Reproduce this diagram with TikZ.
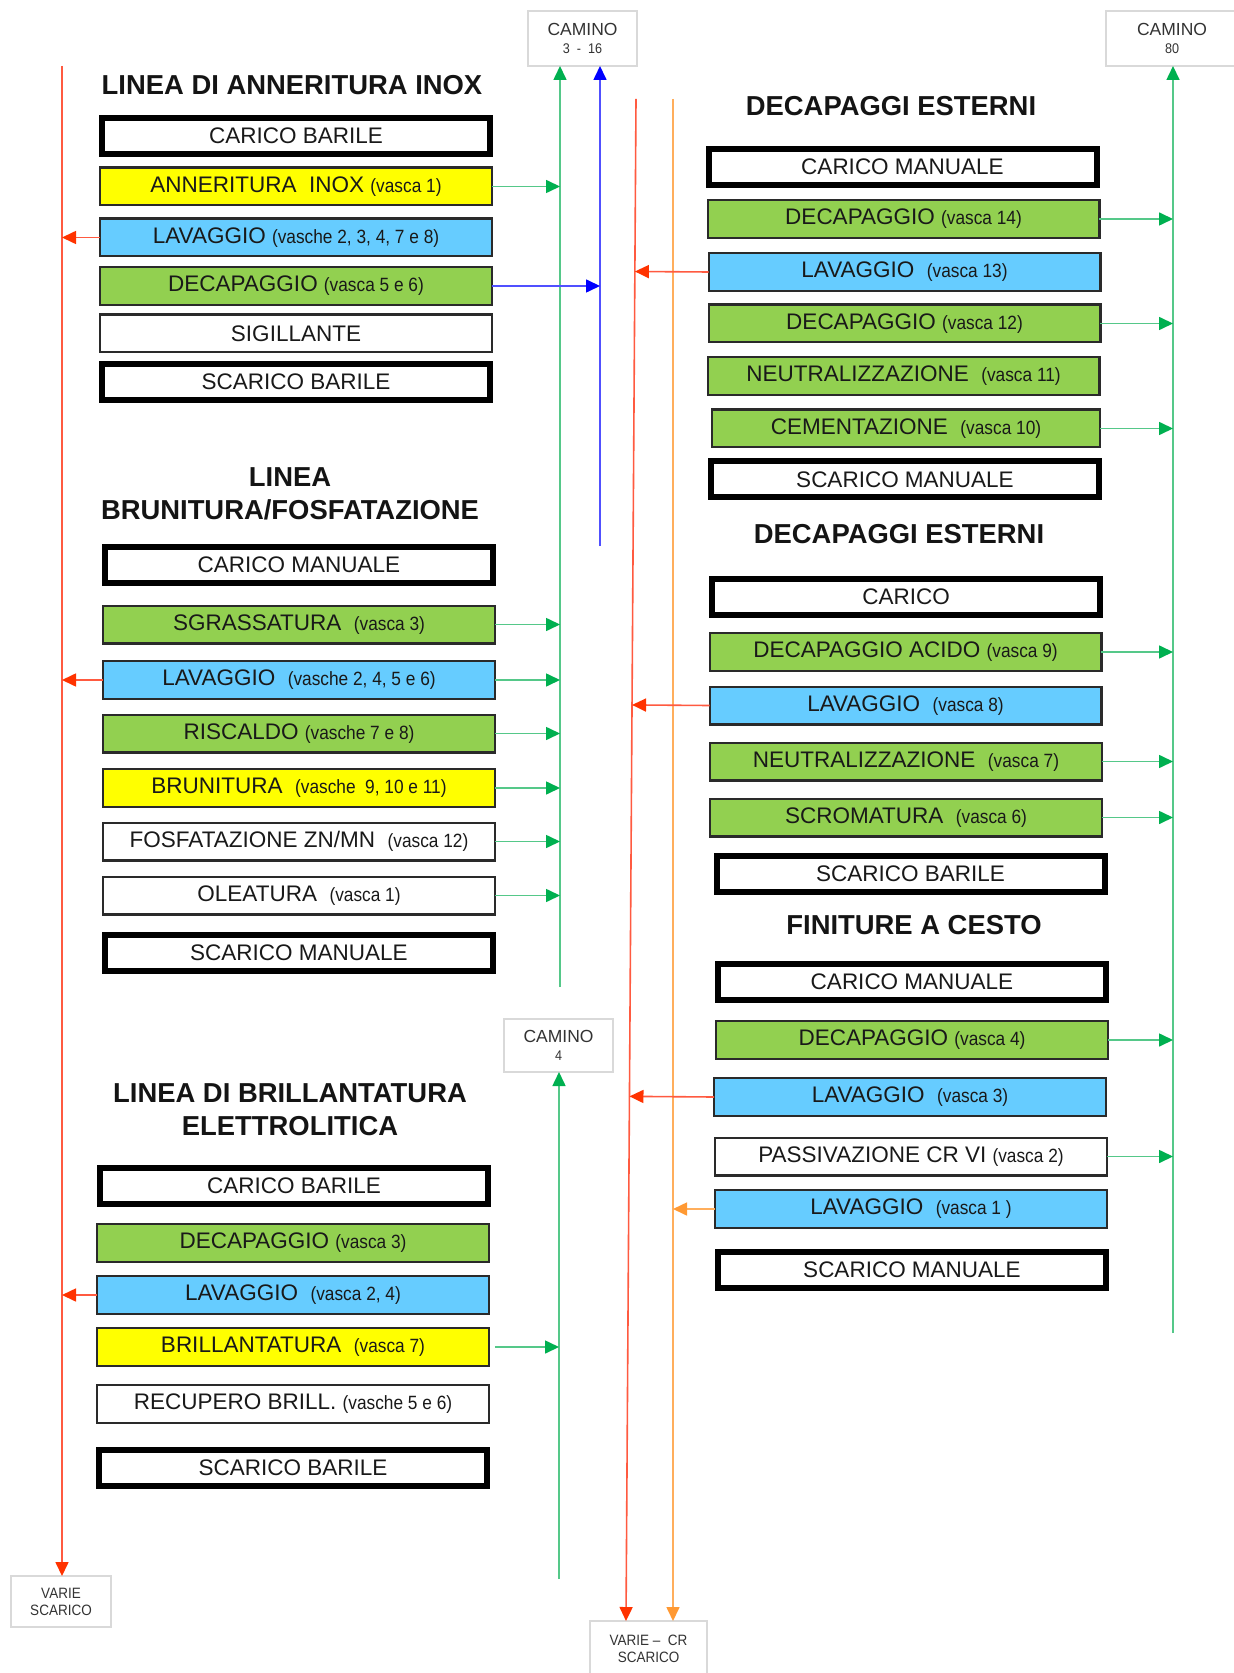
\documentclass[tikz,border=0pt]{standalone}
\usepackage{fontspec}
\setmainfont{Liberation Sans}
\newfontfamily\narrowfont[FakeStretch=0.9]{Liberation Sans}
\usetikzlibrary{arrows.meta,calc}

\definecolor{tankgreen}{HTML}{92D050}
\definecolor{tankblue}{HTML}{66CCFF}
\definecolor{tankyellow}{HTML}{FFFF00}
\definecolor{fumegreen}{HTML}{55C889}
\definecolor{fumetip}{HTML}{00B050}
\definecolor{drainred}{HTML}{FF5A40}
\definecolor{draintip}{HTML}{FF3300}
\definecolor{drainorange}{HTML}{FFAE5C}
\definecolor{orangetip}{HTML}{FF9933}
\definecolor{fumeblue}{HTML}{5050FF}
\definecolor{bluetip}{HTML}{0000FF}
\definecolor{chimneyedge}{HTML}{D9D9D9}
\definecolor{stageedge}{HTML}{2A2A2A}

\newcommand\vascatext[1]{{\narrowfont\fontsize{9.6pt}{11pt}\selectfont #1}}
\newcommand\chimneysub[1]{{\narrowfont\fontsize{7pt}{8pt}\selectfont #1}}

\begin{document}
\begin{tikzpicture}[x=0.5pt,y=-0.5pt,
  every node/.style={inner sep=0pt,outer sep=0pt},
  stagebox/.style={draw=stageedge,line width=1.1pt,fill=white,
    minimum width=195.9pt,minimum height=18.9pt,
    font=\fontsize{11.25pt}{13pt}\selectfont,text=black!90},
  endbox/.style={draw=black,line width=3pt,fill=white,
    minimum width=194pt,minimum height=18pt,
    font=\fontsize{11.25pt}{13pt}\selectfont,text=black!90},
  linetitle/.style={font=\fontsize{13.7pt}{16.5pt}\selectfont\bfseries,align=center,text=black!92},
  chimney/.style={draw=chimneyedge,line width=0.8pt,fill=white,align=center,
    font=\fontsize{8.75pt}{10pt}\selectfont,text=black!80},
  drainbox/.style={draw=chimneyedge,line width=0.8pt,fill=white,align=center,
    font=\narrowfont\fontsize{7.5pt}{8.5pt}\selectfont,text=black!80},
  fume/.style={draw=fumegreen,line width=0.8pt,-{Triangle[length=7pt,width=6.5pt,color=fumetip]}},
  fumeb/.style={draw=fumeblue,line width=0.8pt,-{Triangle[length=7pt,width=6.5pt,color=bluetip]}},
  drain/.style={draw=drainred,line width=0.8pt,-{Triangle[length=7pt,width=6.5pt,color=draintip]}},
  draino/.style={draw=drainorange,line width=0.8pt,-{Triangle[length=7pt,width=6.5pt,color=orangetip]}}
]
\useasboundingbox[fill=white] (0,0) rectangle (1234,1673);

% ---------- chimneys and drains ----------
\node[chimney,minimum width=54.5pt,minimum height=27.5pt] (cam316) at (582.5,38.5)
  {CAMINO\\[-1pt]\chimneysub{3\ \ -\ \ 16}};
\node[chimney,minimum width=66pt,minimum height=27.5pt] (cam80) at (1172,38.5)
  {CAMINO\\[-1pt]\chimneysub{80}};
\node[chimney,minimum width=54.5pt,minimum height=26.5pt] (cam4) at (558.5,1045.5)
  {CAMINO\\[-1pt]\chimneysub{4}};
\node[drainbox,minimum width=50pt,minimum height=25.5pt] (varie) at (61,1601.5)
  {VARIE\\SCARICO};
\node[drainbox,minimum width=58.5pt,minimum height=28pt] (varieCR) at (648.5,1649)
  {VARIE –\ \ CR\\SCARICO};

% ---------- line ends ----------
\coordinate (gAbot) at (560,987);
\coordinate (bluebot) at (600,546);
\coordinate (redLtop) at (62,66);
\coordinate (redMtop) at (636,99);
\coordinate (redMbot) at ([xshift=-11.25pt]varieCR.north);
\coordinate (orTop) at (673,99);
\coordinate (orBot) at ([xshift=12.25pt]varieCR.north);
\coordinate (gBbot) at (559,1579);
\coordinate (gRbot) at (1173,1333);

% ---------- LINEA DI ANNERITURA INOX ----------
\node[linetitle] (t1) at (292,85) {LINEA DI ANNERITURA INOX};
\node[endbox] (a1) at (296,136) {CARICO BARILE};
\node[stagebox,fill=tankyellow] (a2) at (296,186.5) {ANNERITURA\ \ INOX \vascatext{(vasca 1)}};
\node[stagebox,fill=tankblue] (a3) at (296,237.5) {LAVAGGIO \vascatext{(vasche 2, 3, 4, 7 e 8)}};
\node[stagebox,fill=tankgreen] (a4) at (296,286) {DECAPAGGIO \vascatext{(vasca 5 e 6)}};
\node[stagebox] (a5) at (296,333.5) {SIGILLANTE};
\node[endbox] (a6) at (296,382) {SCARICO BARILE};

% ---------- LINEA BRUNITURA/FOSFATAZIONE ----------
\node[linetitle] (t2) at (290,493.5) {LINEA\\BRUNITURA/FOSFATAZIONE};
\node[endbox] (b1) at (299,565) {CARICO MANUALE};
\node[stagebox,fill=tankgreen] (b2) at (299,624.5) {SGRASSATURA\ \ \vascatext{(vasca 3)}};
\node[stagebox,fill=tankblue] (b3) at (299,680) {LAVAGGIO\ \ \vascatext{(vasche 2, 4, 5 e 6)}};
\node[stagebox,fill=tankgreen] (b4) at (299,733.5) {RISCALDO \vascatext{(vasche 7 e 8)}};
\node[stagebox,fill=tankyellow] (b5) at (299,788) {BRUNITURA\ \ \vascatext{(vasche\ \ 9, 10 e 11)}};
\node[stagebox] (b6) at (299,841.5) {FOSFATAZIONE ZN/MN\ \ \vascatext{(vasca 12)}};
\node[stagebox] (b7) at (299,895.5) {OLEATURA\ \ \vascatext{(vasca 1)}};
\node[endbox] (b8) at (299,952.5) {SCARICO MANUALE};

% ---------- LINEA DI BRILLANTATURA ELETTROLITICA ----------
\node[linetitle] (t3) at (290,1109.5) {LINEA DI BRILLANTATURA\\ELETTROLITICA};
\node[endbox] (c1) at (294,1185.5) {CARICO BARILE};
\node[stagebox,fill=tankgreen] (c2) at (293,1243) {DECAPAGGIO \vascatext{(vasca 3)}};
\node[stagebox,fill=tankblue] (c3) at (293,1295) {LAVAGGIO\ \ \vascatext{(vasca 2, 4)}};
\node[stagebox,fill=tankyellow] (c4) at (293,1347) {BRILLANTATURA\ \ \vascatext{(vasca 7)}};
\node[stagebox] (c5) at (293,1404) {RECUPERO BRILL. \vascatext{(vasche 5 e 6)}};
\node[endbox] (c6) at (293,1468) {SCARICO BARILE};

% ---------- DECAPAGGI ESTERNI (vasche 10-14) ----------
\node[linetitle] (t4) at (891,106) {DECAPAGGI ESTERNI};
\node[endbox] (d1) at (902.5,167) {CARICO MANUALE};
\node[stagebox,fill=tankgreen] (d2) at (903.5,219) {DECAPAGGIO \vascatext{(vasca 14)}};
\node[stagebox,fill=tankblue] (d3) at (904.5,272) {LAVAGGIO\ \ \vascatext{(vasca 13)}};
\node[stagebox,fill=tankgreen] (d4) at (904.5,323.5) {DECAPAGGIO \vascatext{(vasca 12)}};
\node[stagebox,fill=tankgreen] (d5) at (903.5,376) {NEUTRALIZZAZIONE\ \ \vascatext{(vasca 11)}};
\node[stagebox,fill=tankgreen,minimum width=194pt] (d6) at (906,428.5) {CEMENTAZIONE\ \ \vascatext{(vasca 10)}};
\node[endbox] (d7) at (905,479.5) {SCARICO MANUALE};

% ---------- DECAPAGGI ESTERNI (vasche 6-9) ----------
\node[linetitle] (t5) at (899,534) {DECAPAGGI ESTERNI};
\node[endbox] (e1) at (906,597) {CARICO};
\node[stagebox,fill=tankgreen] (e2) at (905.5,652) {DECAPAGGIO ACIDO \vascatext{(vasca 9)}};
\node[stagebox,fill=tankblue] (e3) at (905.5,705.5) {LAVAGGIO\ \ \vascatext{(vasca 8)}};
\node[stagebox,fill=tankgreen] (e4) at (906,761.5) {NEUTRALIZZAZIONE\ \ \vascatext{(vasca 7)}};
\node[stagebox,fill=tankgreen] (e5) at (906,817.5) {SCROMATURA\ \ \vascatext{(vasca 6)}};
\node[endbox] (e6) at (910.5,873.5) {SCARICO BARILE};

% ---------- FINITURE A CESTO ----------
\node[linetitle] (t6) at (914,925) {FINITURE A CESTO};
\node[endbox] (f1) at (912,982) {CARICO MANUALE};
\node[stagebox,fill=tankgreen] (f2) at (912,1040) {DECAPAGGIO \vascatext{(vasca 4)}};
\node[stagebox,fill=tankblue] (f3) at (910,1097) {LAVAGGIO\ \ \vascatext{(vasca 3)}};
\node[stagebox] (f4) at (911,1156.5) {PASSIVAZIONE CR VI \vascatext{(vasca 2)}};
\node[stagebox,fill=tankblue] (f5) at (911,1209) {LAVAGGIO\ \ \vascatext{(vasca 1 )}};
\node[endbox] (f6) at (912,1269.5) {SCARICO MANUALE};

% ---------- collectors ----------
\draw[fume] (gAbot) -- (gAbot |- cam316.south);
\draw[fumeb] (bluebot) -- (bluebot |- cam316.south);
\draw[fume] (gBbot) -- (gBbot |- cam4.south);
\draw[fume] (gRbot) -- (gRbot |- cam80.south);
\draw[drain] (redLtop) -- (redLtop |- varie.north);
\draw[drain] (redMtop) -- (redMbot);
\draw[draino] (orTop) -- (orBot);

% ---------- fumes to chimneys ----------
\foreach \s in {a2,b2,b3,b4,b5,b6,b7}
  \draw[fume] (\s.east) -- (\s.east -| gAbot);
\draw[fumeb] (a4.east) -- (a4.east -| bluebot);
\draw[fume] ([xshift=3pt]c4.east) -- (c4.east -| gBbot);
\foreach \s in {d2,d4,d6,e2,e4,e5,f2,f4}
  \draw[fume] (\s.east) -- (\s.east -| gRbot);

% ---------- rinse water to drains ----------
\foreach \s in {a3,b3,c3}
  \draw[drain] (\s.west) -- (\s.west -| redLtop);
\foreach \s in {d3,e3,f3}
  \draw[drain] (\s.west) -- ($(redMtop)!(\s.west)!(redMbot)$);
\draw[draino] (f5.west) -- (f5.west -| orTop);

\end{tikzpicture}
\end{document}
